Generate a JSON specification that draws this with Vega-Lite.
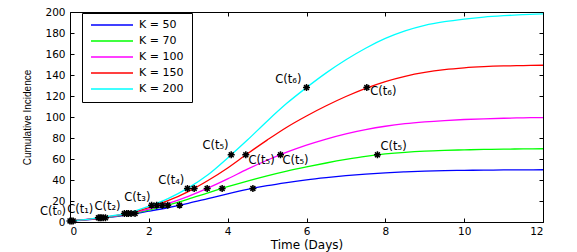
{
  "$schema": "https://vega.github.io/schema/vega-lite/v6.json",
  "autosize": {"type": "none"},
  "width": 473,
  "height": 210,
  "padding": {"left": 70, "top": 12, "right": 34, "bottom": 30},
  "background": "white",
  "config": {
    "view": {"stroke": null},
    "font": "Liberation Sans",
    "axis": {
      "domainColor": "black", "tickColor": "black", "labelColor": "black", "titleColor": "black",
      "grid": false, "tickSize": -4, "labelFont": "DejaVu Sans", "labelFontSize": 10.5,
      "titleFont": "DejaVu Sans", "titleFontWeight": "normal", "domainWidth": 1, "tickWidth": 1
    }
  },
  "datasets": {
    "curves": [
      {"K":"K = 50","t":0,"C":1},{"K":"K = 50","t":0.5,"C":2.4},{"K":"K = 50","t":1,"C":4.4},{"K":"K = 50","t":1.5,"C":7},{"K":"K = 50","t":2,"C":10.3},{"K":"K = 50","t":2.5,"C":13.8},{"K":"K = 50","t":3,"C":17.8},{"K":"K = 50","t":3.5,"C":22.3},{"K":"K = 50","t":4,"C":26.8},{"K":"K = 50","t":4.5,"C":31},{"K":"K = 50","t":5,"C":34.6},{"K":"K = 50","t":5.5,"C":37.6},{"K":"K = 50","t":6,"C":40.2},{"K":"K = 50","t":6.5,"C":42.3},{"K":"K = 50","t":7,"C":44.1},{"K":"K = 50","t":7.5,"C":45.6},{"K":"K = 50","t":8,"C":46.8},{"K":"K = 50","t":8.5,"C":47.7},{"K":"K = 50","t":9,"C":48.4},{"K":"K = 50","t":9.5,"C":48.9},{"K":"K = 50","t":10,"C":49.2},{"K":"K = 50","t":10.5,"C":49.4},{"K":"K = 50","t":11,"C":49.55},{"K":"K = 50","t":11.5,"C":49.65},{"K":"K = 50","t":12,"C":49.75},
      {"K":"K = 70","t":0,"C":1},{"K":"K = 70","t":0.5,"C":2.5},{"K":"K = 70","t":1,"C":4.7},{"K":"K = 70","t":1.5,"C":7.6},{"K":"K = 70","t":2,"C":11.4},{"K":"K = 70","t":2.5,"C":16.2},{"K":"K = 70","t":3,"C":21.8},{"K":"K = 70","t":3.5,"C":27.8},{"K":"K = 70","t":4,"C":33.6},{"K":"K = 70","t":4.5,"C":39},{"K":"K = 70","t":5,"C":44},{"K":"K = 70","t":5.5,"C":48.5},{"K":"K = 70","t":6,"C":52.5},{"K":"K = 70","t":6.5,"C":56.2},{"K":"K = 70","t":7,"C":59.6},{"K":"K = 70","t":7.5,"C":62.6},{"K":"K = 70","t":8,"C":64.8},{"K":"K = 70","t":8.5,"C":66.4},{"K":"K = 70","t":9,"C":67.5},{"K":"K = 70","t":9.5,"C":68.2},{"K":"K = 70","t":10,"C":68.7},{"K":"K = 70","t":10.5,"C":69.1},{"K":"K = 70","t":11,"C":69.4},{"K":"K = 70","t":11.5,"C":69.6},{"K":"K = 70","t":12,"C":69.75},
      {"K":"K = 100","t":0,"C":1},{"K":"K = 100","t":0.5,"C":2.6},{"K":"K = 100","t":1,"C":5},{"K":"K = 100","t":1.5,"C":8.1},{"K":"K = 100","t":2,"C":12.3},{"K":"K = 100","t":2.5,"C":17.8},{"K":"K = 100","t":3,"C":24.5},{"K":"K = 100","t":3.5,"C":32.3},{"K":"K = 100","t":4,"C":41},{"K":"K = 100","t":4.5,"C":50.3},{"K":"K = 100","t":5,"C":58.8},{"K":"K = 100","t":5.5,"C":66.5},{"K":"K = 100","t":6,"C":73.2},{"K":"K = 100","t":6.5,"C":79},{"K":"K = 100","t":7,"C":84},{"K":"K = 100","t":7.5,"C":88},{"K":"K = 100","t":8,"C":91.2},{"K":"K = 100","t":8.5,"C":93.6},{"K":"K = 100","t":9,"C":95.3},{"K":"K = 100","t":9.5,"C":96.6},{"K":"K = 100","t":10,"C":97.6},{"K":"K = 100","t":10.5,"C":98.3},{"K":"K = 100","t":11,"C":98.8},{"K":"K = 100","t":11.5,"C":99.2},{"K":"K = 100","t":12,"C":99.5},
      {"K":"K = 150","t":0,"C":1},{"K":"K = 150","t":0.5,"C":2.7},{"K":"K = 150","t":1,"C":5.2},{"K":"K = 150","t":1.5,"C":8.4},{"K":"K = 150","t":2,"C":13.8},{"K":"K = 150","t":2.5,"C":20.5},{"K":"K = 150","t":3,"C":29},{"K":"K = 150","t":3.5,"C":39.5},{"K":"K = 150","t":4,"C":51.5},{"K":"K = 150","t":4.5,"C":65},{"K":"K = 150","t":5,"C":78},{"K":"K = 150","t":5.5,"C":90.3},{"K":"K = 150","t":6,"C":101},{"K":"K = 150","t":6.5,"C":110.7},{"K":"K = 150","t":7,"C":119.5},{"K":"K = 150","t":7.5,"C":127.3},{"K":"K = 150","t":8,"C":133.8},{"K":"K = 150","t":8.5,"C":138.8},{"K":"K = 150","t":9,"C":142.5},{"K":"K = 150","t":9.5,"C":145.1},{"K":"K = 150","t":10,"C":146.8},{"K":"K = 150","t":10.5,"C":147.9},{"K":"K = 150","t":11,"C":148.6},{"K":"K = 150","t":11.5,"C":149},{"K":"K = 150","t":12,"C":149.3},
      {"K":"K = 200","t":0,"C":1},{"K":"K = 200","t":0.5,"C":2.8},{"K":"K = 200","t":1,"C":5.5},{"K":"K = 200","t":1.5,"C":8.8},{"K":"K = 200","t":2,"C":15},{"K":"K = 200","t":2.5,"C":22.5},{"K":"K = 200","t":3,"C":32.5},{"K":"K = 200","t":3.5,"C":45},{"K":"K = 200","t":4,"C":61},{"K":"K = 200","t":4.5,"C":78},{"K":"K = 200","t":5,"C":96},{"K":"K = 200","t":5.5,"C":113},{"K":"K = 200","t":6,"C":128},{"K":"K = 200","t":6.5,"C":142},{"K":"K = 200","t":7,"C":154.5},{"K":"K = 200","t":7.5,"C":165.5},{"K":"K = 200","t":8,"C":174.8},{"K":"K = 200","t":8.5,"C":182},{"K":"K = 200","t":9,"C":187.3},{"K":"K = 200","t":9.5,"C":190.8},{"K":"K = 200","t":10,"C":193.3},{"K":"K = 200","t":10.5,"C":195.2},{"K":"K = 200","t":11,"C":196.5},{"K":"K = 200","t":11.5,"C":197.5},{"K":"K = 200","t":12,"C":198.3}
    ],
    "stars": [
      {"t":0,"C":1},{"t":0.04,"C":1},{"t":0.08,"C":1},
      {"t":0.72,"C":4},{"t":0.76,"C":4},{"t":0.79,"C":4},{"t":0.84,"C":4},{"t":0.9,"C":4},
      {"t":1.38,"C":8},{"t":1.44,"C":8},{"t":1.48,"C":8},{"t":1.55,"C":8},{"t":1.65,"C":8},
      {"t":2.07,"C":16},{"t":2.2,"C":16},{"t":2.34,"C":16},{"t":2.48,"C":16},{"t":2.78,"C":16},
      {"t":2.98,"C":32},{"t":3.15,"C":32},{"t":3.48,"C":32},{"t":3.86,"C":32},{"t":4.64,"C":32},
      {"t":4.09,"C":64},{"t":4.46,"C":64},{"t":5.34,"C":64},{"t":7.8,"C":64},
      {"t":6,"C":128},{"t":7.53,"C":128}
    ],
    "labels": [
      {"t":-0.43,"C":9.4,"label":"C(t₀)"},
      {"t":0.26,"C":11.8,"label":"C(t₁)"},
      {"t":0.95,"C":14.3,"label":"C(t₂)"},
      {"t":1.71,"C":23.3,"label":"C(t₃)"},
      {"t":2.57,"C":38.9,"label":"C(t₄)"},
      {"t":3.69,"C":72.2,"label":"C(t₅)"},
      {"t":4.86,"C":57.9,"label":"C(t₅)"},
      {"t":5.72,"C":57.9,"label":"C(t₅)"},
      {"t":8.21,"C":71.6,"label":"C(t₅)"},
      {"t":5.54,"C":135.7,"label":"C(t₆)"},
      {"t":7.95,"C":123.6,"label":"C(t₆)"}
    ]
  },
  "layer": [
    {
      "data": {"name": "curves"},
      "mark": {"type": "line", "interpolate": "monotone", "strokeWidth": 1.3},
      "encoding": {
        "x": {"field": "t", "type": "quantitative", "scale": {"domain": [0, 12], "nice": false},
              "axis": {"orient": "bottom", "values": [0,2,4,6,8,10,12], "title": "Time (Days)", "titleFontSize": 12, "titlePadding": 3, "labelPadding": 8}},
        "y": {"field": "C", "type": "quantitative", "scale": {"domain": [0, 200], "nice": false},
              "axis": {"orient": "left", "values": [0,20,40,60,80,100,120,140,160,180,200], "title": "Cumulative Incidence", "titleFont": "Liberation Sans", "titleFontSize": 10, "titlePadding": 12, "labelPadding": 9}},
        "color": {"field": "K", "type": "nominal",
                  "scale": {"domain": ["K = 50","K = 70","K = 100","K = 150","K = 200"], "range": ["#0000ff","#00ff00","#ff00ff","#ff0000","#00ffff"]},
                  "legend": {"orient": "none", "legendX": 12, "legendY": 1, "title": null, "symbolType": "stroke", "symbolSize": 1764, "symbolStrokeWidth": 1.5,
                             "labelFont": "DejaVu Sans", "labelFontSize": 11, "labelColor": "black", "labelOffset": 5, "rowPadding": 5, "clipHeight": 8,
                             "strokeColor": "black", "fillColor": "white", "padding": 8}},
        "order": {"field": "K", "sort": "ascending"}
      }
    },
    {
      "data": {"name": "stars"},
      "mark": {"type": "point", "shape": "M-1,0L1,0M0,-1L0,1M-0.7,-0.7L0.7,0.7M-0.7,0.7L0.7,-0.7", "size": 49, "filled": false, "stroke": "black", "strokeWidth": 1.5, "opacity": 1},
      "encoding": {
        "x": {"field": "t", "type": "quantitative", "axis": {"orient": "top", "values": [0,2,4,6,8,10,12], "labels": false, "title": null}},
        "y": {"field": "C", "type": "quantitative", "axis": {"orient": "right", "values": [0,20,40,60,80,100,120,140,160,180,200], "labels": false, "title": null}}
      }
    },
    {
      "data": {"name": "labels"},
      "mark": {"type": "text", "font": "DejaVu Sans", "fontSize": 11.5, "color": "black", "align": "center", "baseline": "middle"},
      "encoding": {
        "x": {"field": "t", "type": "quantitative", "axis": null},
        "y": {"field": "C", "type": "quantitative", "axis": null},
        "text": {"field": "label"}
      }
    }
  ],
  "resolve": {"axis": {"x": "independent", "y": "independent"}}
}
